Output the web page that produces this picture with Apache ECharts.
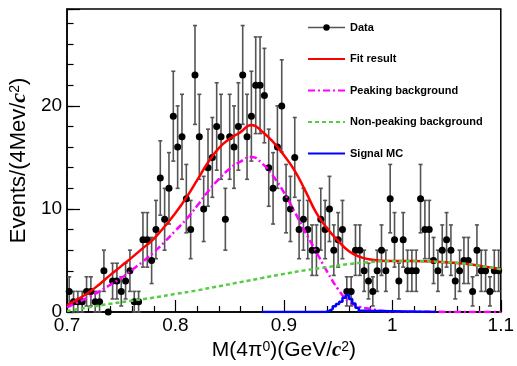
<!DOCTYPE html>
<html>
<head>
<meta charset="utf-8">
<script src="https://cdn.jsdelivr.net/npm/echarts@6/dist/echarts.min.js"></script>
<style>
  html, body { margin: 0; padding: 0; background: #fff; }
  #chart { width: 517px; height: 366px; }
</style>
</head>
<body>
<div id="chart"></div>
<script>
  // histogram: 100 bins of 4 MeV between 0.7 and 1.1 GeV
  var xLow = 0.7;
  var binW = 0.004;
  var counts = [2, 1, 1, 1, 2, 2, 1, 1, 4, 0,
                3, 3, 2, 3, 4, 1, 1, 7, 7, 5,
                8, 13, 9, 12, 19, 16, 17, 11, 8, 23,
                17, 10, 14, 15, 18, 17, 9, 17, 16, 18,
                23, 17, 19, 22, 22, 21, 14, 12, 16, 20,
                11, 10, 15, 8, 9, 8, 6, 6, 9, 8,
                10, 6, 7, 8, 2, 2, 6, 6, 4, 3,
                2, 4, 6, 4, 11, 7, 3, 7, 4, 4,
                4, 11, 8, 8, 5, 4, 6, 7, 6, 3,
                4, 5, 5, 2, 6, 4, 4, 2, 4, 4];

  // fit curves
  var fitX = [0.70, 0.71, 0.72, 0.73, 0.74, 0.75, 0.76, 0.77, 0.78, 0.79,
              0.80, 0.81, 0.82, 0.83, 0.84, 0.85, 0.86, 0.87, 0.88, 0.89,
              0.90, 0.91, 0.92, 0.93, 0.94, 0.95, 0.96, 0.97, 0.98, 0.99,
              1.00, 1.02, 1.04, 1.06, 1.08, 1.10];
  var fitY = [0.65, 1.25, 1.9, 2.7, 3.6, 4.45, 5.3, 6.2, 7.1, 8.3,
              9.6, 11.1, 12.8, 14.5, 15.9, 16.8, 17.45, 18.15, 17.5, 16.5,
              15.2, 13.7, 11.7, 9.6, 8.1, 6.9, 5.9, 5.35, 5.1, 4.98,
              4.95, 4.94, 4.88, 4.75, 4.5, 4.15];

  var peakX = [0.70, 0.71, 0.72, 0.73, 0.74, 0.75, 0.76, 0.77, 0.78, 0.79,
               0.80, 0.81, 0.82, 0.83, 0.84, 0.85, 0.86, 0.87, 0.88, 0.89,
               0.90, 0.91, 0.92, 0.93, 0.94, 0.95, 0.96, 0.97, 0.98, 0.99,
               1.00, 1.05, 1.10];
  var peakY = [0.45, 0.95, 1.45, 2.0, 2.65, 3.3, 4.1, 4.9, 5.8, 6.8,
               7.9, 9.0, 10.3, 11.7, 12.9, 13.9, 14.6, 15.05, 14.4, 13.2,
               11.6, 9.7, 7.7, 5.8, 3.9, 2.2, 1.0, 0.5, 0.3, 0.12,
               0.05, 0.01, 0];

  var bkgX = [0.70, 0.72, 0.74, 0.76, 0.78, 0.80, 0.82, 0.84, 0.86, 0.88,
              0.90, 0.92, 0.94, 0.96, 0.98, 1.00, 1.02, 1.04, 1.06, 1.08, 1.10];
  var bkgY = [0.1, 0.45, 0.8, 1.1, 1.4, 1.75, 2.1, 2.5, 2.9, 3.3,
              3.7, 4.05, 4.35, 4.65, 4.85, 4.94, 4.94, 4.88, 4.75, 4.5, 4.15];

  // signal MC, left edges of steps
  var sigX = [0.880, 0.939, 0.942, 0.945, 0.948, 0.951, 0.954, 0.957, 0.960,
              0.963, 0.966, 0.969, 0.972, 1.040];
  var sigY = [0, 0.13, 0.28, 0.55, 0.78, 1.0, 1.38, 1.66, 1.25,
              0.82, 0.42, 0.12, 0, 0];

  var pts = [];
  var errs = [];
  for (var i = 0; i < counts.length; i++) {
      var xc = xLow + (i + 0.5) * binW;
      pts.push([xc, counts[i]]);
      errs.push([xc, counts[i], Math.sqrt(counts[i])]);
  }

  function pairs(xs, ys) {
      var out = [];
      for (var k = 0; k < xs.length; k++) out.push([xs[k], ys[k]]);
      return out;
  }

  function renderErr(params, api) {
      var x = api.value(0), y = api.value(1), e = api.value(2);
      if (e <= 0) return null;
      var lo = api.coord([x, y - e]);
      var hi = api.coord([x, y + e]);
      var st = { stroke: '#555', lineWidth: 1.6 };
      return {
          type: 'group',
          children: [
              { type: 'line', shape: { x1: lo[0], y1: lo[1], x2: hi[0], y2: hi[1] }, style: st },
              { type: 'line', shape: { x1: lo[0] - 2, y1: lo[1], x2: lo[0] + 2, y2: lo[1] }, style: st },
              { type: 'line', shape: { x1: hi[0] - 2, y1: hi[1], x2: hi[0] + 2, y2: hi[1] }, style: st }
          ]
      };
  }

  var myChart = echarts.init(document.getElementById('chart'));

  var font = 'Liberation Sans, Arial, Helvetica, sans-serif';
  function titleRich(size) {
      return {
          c: { fontSize: size, fontStyle: 'italic', fontWeight: 'bold', fontFamily: 'Liberation Serif, serif', color: '#000' },
          sup: { fontSize: Math.round(size * 0.65), verticalAlign: 'top', fontFamily: font, color: '#000' }
      };
  }
  var noDot = { opacity: 0 };

  var option = {
      animation: false,
      backgroundColor: '#fff',
      grid: {
          left: 67, top: 9, right: 16, bottom: 47,
          show: true, borderColor: '#000', borderWidth: 1.5
      },
      legend: {
          orient: 'vertical',
          left: 307,
          top: 22,
          padding: 0,
          itemWidth: 37,
          itemHeight: 8,
          itemGap: 20.5,
          textStyle: { fontFamily: font, fontSize: 11, fontWeight: 'bold', color: '#000' },
          data: [
              { name: 'Data', lineStyle: { color: '#555', width: 1.5, opacity: 1 } },
              { name: 'Fit result', itemStyle: noDot },
              { name: 'Peaking background', itemStyle: noDot },
              { name: 'Non-peaking background', itemStyle: noDot },
              { name: 'Signal MC', itemStyle: noDot }
          ]
      },
      xAxis: {
          type: 'value',
          min: 0.7,
          max: 1.1,
          interval: 0.1,
          name: 'M(4π{sup|0})(GeV/{c|c}{sup|2})',
          nameLocation: 'middle',
          nameGap: 28,
          nameTextStyle: { fontFamily: font, fontSize: 21, color: '#000', rich: titleRich(21) },
          axisLine: { onZero: false, lineStyle: { color: '#000', width: 1.5 } },
          axisTick: { inside: true, length: 12, lineStyle: { color: '#000', width: 1.2 } },
          minorTick: { show: true, splitNumber: 5, length: 6, lineStyle: { color: '#000', width: 1.2 } },
          axisLabel: {
              fontFamily: font, fontSize: 19, color: '#000', margin: 4,
              formatter: function (v) { return String(+v.toFixed(1)); }
          },
          splitLine: { show: false }
      },
      yAxis: [{
          type: 'value',
          min: 0,
          max: 29.4,
          interval: 10,
          name: 'Events/(4Mev/{c|c}{sup|2})',
          nameLocation: 'middle',
          nameGap: 29,
          nameTextStyle: { fontFamily: font, fontSize: 22, color: '#000', rich: titleRich(22) },
          axisLine: { lineStyle: { color: '#000', width: 1.5 } },
          axisTick: { inside: true, length: 13, lineStyle: { color: '#000', width: 1.2 } },
          axisLabel: {
              fontFamily: font, fontSize: 19, color: '#000', margin: 5,
              formatter: function (v) { return v % 10 === 0 ? String(v) : ''; }
          },
          splitLine: { show: false }
      }, {
          // minor ticks every 2 events
          type: 'value',
          position: 'left',
          min: 0,
          max: 29.4,
          interval: 2,
          axisLine: { show: false },
          axisTick: { inside: true, length: 6.5, lineStyle: { color: '#000', width: 1.2 } },
          axisLabel: { show: false },
          splitLine: { show: false }
      }],
      series: [{
          name: 'errors',
          type: 'custom',
          renderItem: renderErr,
          data: errs,
          z: 1,
          silent: true
      }, {
          name: 'Data',
          type: 'line',
          data: pts,
          symbol: 'circle',
          symbolSize: 7,
          itemStyle: { color: '#000' },
          lineStyle: { opacity: 0 },
          z: 2
      }, {
          name: 'Fit result',
          type: 'line',
          data: pairs(fitX, fitY),
          smooth: true,
          symbol: 'none',
          itemStyle: { color: '#ff0000' },
          lineStyle: { color: '#ff0000', width: 2.5 },
          z: 3
      }, {
          name: 'Peaking background',
          type: 'line',
          data: pairs(peakX, peakY),
          smooth: true,
          symbol: 'none',
          itemStyle: { color: '#ff00ff' },
          lineStyle: { color: '#ff00ff', width: 2.5, type: [7, 3, 2, 3] },
          z: 3
      }, {
          name: 'Non-peaking background',
          type: 'line',
          data: pairs(bkgX, bkgY),
          smooth: true,
          symbol: 'none',
          itemStyle: { color: '#55cc44' },
          lineStyle: { color: '#55cc44', width: 2.5, type: [4, 3] },
          z: 4
      }, {
          name: 'Signal MC',
          type: 'line',
          data: pairs(sigX, sigY),
          step: 'end',
          symbol: 'none',
          itemStyle: { color: '#0000ff' },
          lineStyle: { color: '#0000ff', width: 2.5 },
          z: 4
      }]
  };

  myChart.setOption(option);
</script>
</body>
</html>
